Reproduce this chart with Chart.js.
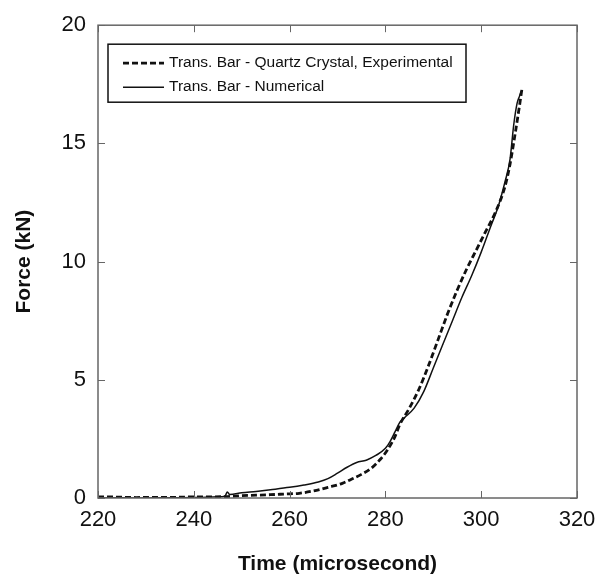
<!DOCTYPE html>
<html>
<head>
<meta charset="utf-8">
<script src="https://cdn.jsdelivr.net/npm/chart.js@4"></script>
<style>
  body { margin: 0; background: #fff; }
  canvas { display: block; }
</style>
</head>
<body>
<canvas id="myChart" width="610" height="578"></canvas>
<script>
// Trans. Bar - Quartz Crystal, Experimental (dashed)
const expTime = [220, 224, 228, 232, 236, 240, 244, 247, 250, 253, 256, 259, 262, 265, 268, 271, 273, 275, 277, 279, 280.5, 282, 283, 285, 287, 289, 291, 293, 295, 297, 299, 301, 303, 305, 306, 307, 308, 308.5];
const expForce = [0.05, 0.04, 0.02, 0.03, 0.03, 0.05, 0.05, 0.06, 0.1, 0.12, 0.14, 0.17, 0.2, 0.3, 0.45, 0.62, 0.8, 1.0, 1.25, 1.65, 2.05, 2.6, 3.1, 3.8, 4.6, 5.6, 6.7, 7.8, 8.8, 9.7, 10.5, 11.3, 12.1, 13.2, 14.1, 15.3, 16.6, 17.3];

// Trans. Bar - Numerical (solid)
const numTime = [220, 225, 230, 235, 240, 245, 246.5, 247, 247.5, 250, 253, 256, 260, 263, 266, 268, 270, 272, 274, 276, 278, 280, 281, 282, 283, 284, 286, 288, 290, 292, 294, 296, 298, 300, 302, 303.5, 305, 306, 306.8, 307.5, 308, 308.3];
const numForce = [0, 0.01, 0, 0.01, 0.02, 0.05, 0.08, 0.25, 0.15, 0.22, 0.28, 0.35, 0.45, 0.55, 0.68, 0.82, 1.05, 1.3, 1.5, 1.6, 1.8, 2.1, 2.4, 2.8, 3.2, 3.4, 3.8, 4.5, 5.5, 6.5, 7.5, 8.5, 9.4, 10.4, 11.5, 12.3, 13.4, 14.3, 15.8, 16.7, 17.0, 17.2];

const xTicks = [220, 240, 260, 280, 300, 320];
const yTicks = [0, 5, 10, 15, 20];

const toPoints = (xs, ys) => xs.map((x, i) => ({ x, y: ys[i] }));

// marcos, ticks hacia dentro y leyenda dentro del area
const framePlugin = {
  id: "frame",
  afterDatasetsDraw(chart) {
    const { ctx, chartArea: a, scales } = chart;
    ctx.save();
    ctx.strokeStyle = "#666";
    ctx.lineWidth = 1;
    ctx.beginPath();
    xTicks.forEach((v) => {
      const px = Math.round(scales.x.getPixelForValue(v)) + 0.5;
      ctx.moveTo(px, a.bottom);
      ctx.lineTo(px, a.bottom - 7);
      ctx.moveTo(px, a.top);
      ctx.lineTo(px, a.top + 7);
    });
    yTicks.forEach((v) => {
      const py = Math.round(scales.y.getPixelForValue(v)) + 0.5;
      ctx.moveTo(a.left, py);
      ctx.lineTo(a.left + 7, py);
      ctx.moveTo(a.right, py);
      ctx.lineTo(a.right - 7, py);
    });
    ctx.stroke();
    ctx.lineWidth = 1.5;
    ctx.strokeStyle = "#666";
    ctx.strokeRect(a.left, a.top, a.right - a.left, a.bottom - a.top);

    // leyenda
    const bx = a.left + 10, by = a.top + 19, bw = 358, bh = 58;
    ctx.fillStyle = "#fff";
    ctx.fillRect(bx, by, bw, bh);
    ctx.strokeStyle = "#111";
    ctx.lineWidth = 1.5;
    ctx.strokeRect(bx, by, bw, bh);
    ctx.font = "15.5px 'Liberation Sans', Arial, sans-serif";
    ctx.textBaseline = "middle";
    chart.data.datasets.forEach((ds, i) => {
      const y = by + 19 + i * 24;
      ctx.strokeStyle = ds.borderColor;
      ctx.lineWidth = ds.borderWidth;
      ctx.setLineDash(ds.borderDash || []);
      ctx.beginPath();
      ctx.moveTo(bx + 15, y);
      ctx.lineTo(bx + 56, y);
      ctx.stroke();
      ctx.setLineDash([]);
      ctx.fillStyle = "#111";
      ctx.fillText(ds.label, bx + 61, y);
    });
    ctx.restore();
  },
};

const config = {
  type: "line",
  data: {
    datasets: [
      {
        label: "Trans. Bar - Quartz Crystal, Experimental",
        data: toPoints(expTime, expForce),
        borderColor: "#111",
        borderWidth: 2.8,
        borderDash: [6, 3],
        pointRadius: 0,
        cubicInterpolationMode: "monotone",
      },
      {
        label: "Trans. Bar - Numerical",
        data: toPoints(numTime, numForce),
        borderColor: "#111",
        borderWidth: 1.5,
        pointRadius: 0,
        cubicInterpolationMode: "monotone",
      },
    ],
  },
  options: {
    responsive: false,
    animation: false,
    devicePixelRatio: 1,
    layout: { padding: { top: 20, right: 33, left: 0, bottom: 0 } },
    plugins: { legend: { display: false }, tooltip: { enabled: false } },
    scales: {
      x: {
        type: "linear",
        min: 220,
        max: 320,
        afterBuildTicks: (s) => { s.ticks = xTicks.map((v) => ({ value: v })); },
        afterFit: (s) => { s.height = 80; },
        grid: { display: false, drawTicks: false },
        border: { display: false },
        ticks: {
          padding: 9,
          color: "#111",
          font: { family: "'Liberation Sans', Arial", size: 22 },
        },
        title: {
          display: true,
          text: "Time (microsecond)",
          color: "#111",
          padding: { top: 0, bottom: 1 },
          font: { family: "'Liberation Sans', Arial", size: 21, weight: "bold" },
        },
      },
      y: {
        min: 0,
        max: 20,
        afterBuildTicks: (s) => { s.ticks = yTicks.map((v) => ({ value: v })); },
        afterFit: (s) => { s.width = 98; },
        grid: { display: false, drawTicks: false },
        border: { display: false },
        ticks: {
          padding: 12,
          color: "#111",
          font: { family: "'Liberation Sans', Arial", size: 22 },
        },
        title: {
          display: true,
          text: "Force (kN)",
          color: "#111",
          padding: { top: 12, bottom: 0 },
          font: { family: "'Liberation Sans', Arial", size: 21, weight: "bold" },
        },
      },
    },
  },
  plugins: [framePlugin],
};

new Chart(document.getElementById("myChart"), config);
</script>
</body>
</html>
